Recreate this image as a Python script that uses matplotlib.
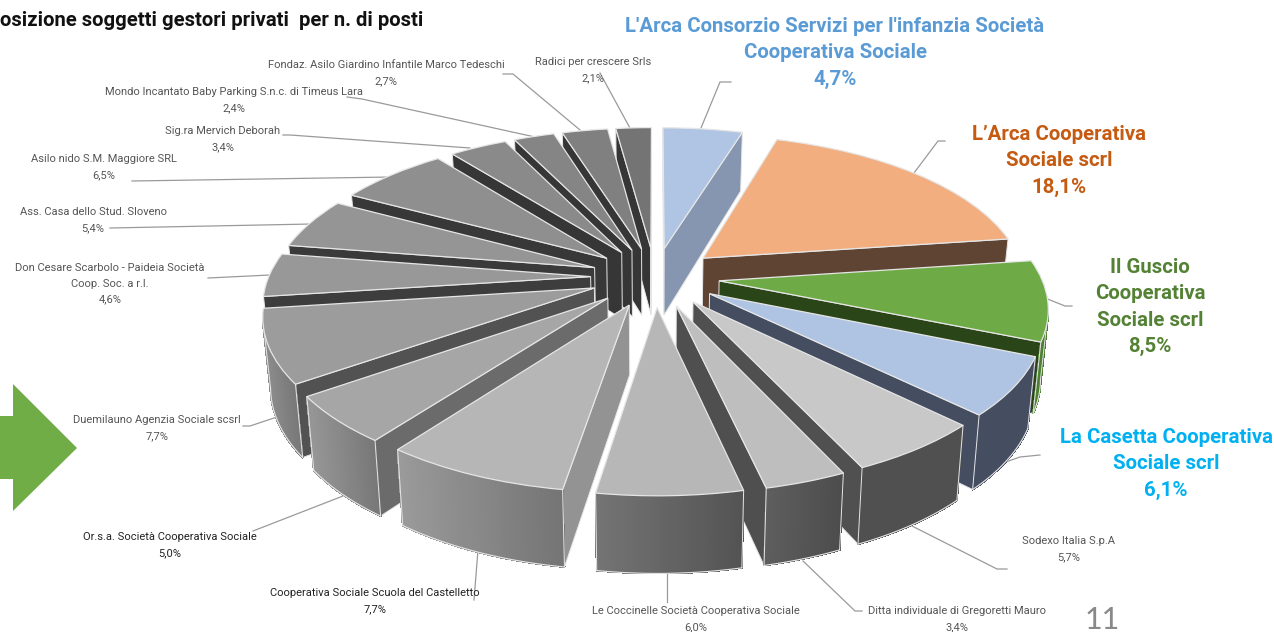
import numpy as np
import matplotlib
matplotlib.use("Agg")
import matplotlib.pyplot as plt
from matplotlib.collections import PolyCollection
from matplotlib.patches import Polygon
from matplotlib.colors import to_rgb
from matplotlib.transforms import Transform

# ---------- data ----------
names = [
    "L'Arca Consorzio Servizi per l'infanzia Società\nCooperativa Sociale",
    "L’Arca Cooperativa\nSociale scrl",
    "Il Guscio\nCooperativa\nSociale scrl",
    "La Casetta Cooperativa\nSociale scrl",
    "Sodexo Italia S.p.A",
    "Ditta individuale di Gregoretti Mauro",
    "Le Coccinelle Società Cooperativa Sociale",
    "Cooperativa Sociale Scuola del Castelletto",
    "Or.s.a. Società Cooperativa Sociale",
    "Duemilauno Agenzia Sociale scsrl",
    "Don Cesare Scarbolo - Paideia Società\nCoop. Soc. a r.l.",
    "Ass. Casa dello Stud. Sloveno",
    "Asilo nido S.M. Maggiore SRL",
    "Sig.ra Mervich Deborah",
    "Mondo Incantato Baby Parking S.n.c. di Timeus Lara",
    "Fondaz. Asilo Giardino Infantile Marco Tedeschi",
    "Radici per crescere Srls",
]
shares = [4.7, 18.1, 8.5, 6.1, 5.7, 3.4, 6.0, 7.7, 5.0, 7.7, 4.6, 5.4, 6.5, 3.4, 2.4, 2.7, 2.1]
title = "osizione soggetti gestori privati  per n. di posti"
page = "11"

# ---------- styles ----------
top_colors = ["#B0C4E3", "#F2AE7F", "#6EAB46", "#AFC4E3", "#C8C8C8", "#BEBEBE", "#B7B7B7", "#B6B6B6",
              "#A6A6A6", "#9C9C9C", "#989898", "#959595", "#8F8F8F", "#8A8A8A", "#858585", "#808080", "#747474"]
cut_colors = ["#8696B0", "#5F4433", "#2A4518", "#454D60", "#505050", "#4F4F4F", "#606060", "#939393",
              "#6B6B6B", "#525252", "#3D3D3D", "#3A3A3A", "#383838", "#363636", "#363636", "#363636", "#363636"]
wall_left = ["#8696B0", "#5F4433", "#55883A", "#454D60", "#505050", "#5E5E5E", "#747474", "#9A9A9A",
             "#969696", "#8C8C8C", "#808080", "#707070", "#606060", "#505050", "#505050", "#505050", "#505050"]
wall_right = ["#8696B0", "#5F4433", "#4A7A30", "#454D60", "#505050", "#4C4C4C", "#535353", "#747474",
              "#777777", "#777777", "#707070", "#606060", "#505050", "#505050", "#505050", "#505050", "#505050"]
EDGE = "#E6E6E6"
FONT = "Roboto"

CX, CY, RX, RY, K, EXPLODE = 655.0, 277.0, 322.0, 148.0, 0.157, 0.2


class PieProjection(Transform):
    """Perspective view of the flat pie, from pie units to figure pixels."""
    input_dims = 2
    output_dims = 2
    is_separable = False
    has_inverse = False

    def transform_non_affine(self, values):
        v = np.asarray(values, dtype=float)
        s = 1.0 / (1.0 + K * v[:, 1])
        return np.column_stack([CX + RX * v[:, 0] * s, CY - RY * v[:, 1] * s])


proj = PieProjection()


def drop(points, model_y):
    """Bottom edge of the pie wall under projected top points."""
    h = 68.0 - 8.0 * model_y
    return np.column_stack([CX + (points[:, 0] - CX) * 0.98, points[:, 1] + h])


fig = plt.figure(figsize=(12.74, 6.32), dpi=100)
ax = fig.add_axes([0, 0, 1, 1])
wedges, _ = ax.pie(shares, explode=[EXPLODE] * len(shares), startangle=90, counterclock=False,
                   colors=top_colors, radius=1.0,
                   wedgeprops=dict(edgecolor=EDGE, linewidth=0.9))
ax.set_aspect("auto")
ax.set_xlim(0, 1274)
ax.set_ylim(632, 0)
ax.axis("off")

fracs = np.array(shares) / np.sum(shares)
ends = np.cumsum(fracs) * 2 * np.pi
starts = ends - fracs * 2 * np.pi
mids = (starts + ends) / 2
order = np.argsort(-np.cos(mids))

for rank, i in enumerate(order):
    z = 10 + rank * 3
    off = EXPLODE * np.array([np.sin(mids[i]), np.cos(mids[i])])
    t = np.linspace(starts[i], ends[i], 40)
    rim_m = np.column_stack([np.sin(t), np.cos(t)]) + off
    rim = proj.transform_non_affine(rim_m)
    rim_b = drop(rim, rim_m[:, 1])
    tip = proj.transform_non_affine(off[None, :])
    tip_b = drop(tip, off[None, 1])

    # cut faces
    for a, b, ab, bb in ((tip[0], rim[0], tip_b[0], rim_b[0]), (rim[-1], tip[0], rim_b[-1], tip_b[0])):
        d = b - a
        if d[0] * (ab - a)[1] - d[1] * (ab - a)[0] < 0:
            ax.add_patch(Polygon([a, b, bb, ab], closed=True, facecolor=cut_colors[i], edgecolor=EDGE,
                                 linewidth=0.7, zorder=z))

    # outer wall, shaded across its width
    quads, cols = [], []
    xmin, xmax = rim[:, 0].min(), rim[:, 0].max()
    cl, cr = np.array(to_rgb(wall_left[i])), np.array(to_rgb(wall_right[i]))
    for j in range(len(t) - 1):
        if rim[j + 1, 0] - rim[j, 0] < 0:
            quads.append([rim[j], rim[j + 1], rim_b[j + 1], rim_b[j]])
            u = (0.5 * (rim[j, 0] + rim[j + 1, 0]) - xmin) / max(xmax - xmin, 1)
            cols.append(cl + (cr - cl) * u)
    if quads:
        ax.add_collection(PolyCollection(quads, facecolors=cols, edgecolors=cols, linewidths=0.8,
                                         antialiaseds=False, zorder=z + 1))
        vis = [q[0] for q in quads] + [quads[-1][1]]
        visb = [q[3] for q in quads] + [quads[-1][2]]
        ax.plot([p[0] for p in visb], [p[1] for p in visb], color=EDGE, lw=0.8, zorder=z + 1)
        ax.plot([vis[0][0], visb[0][0]], [vis[0][1], visb[0][1]], color=EDGE, lw=0.7, zorder=z + 1)
        ax.plot([vis[-1][0], visb[-1][0]], [vis[-1][1], visb[-1][1]], color=EDGE, lw=0.7, zorder=z + 1)

    wedges[i].set_transform(proj + ax.transData)
    wedges[i].set_zorder(z + 2)
    wedges[i].set_clip_on(False)

# ---------- leader lines ----------
leaders = [
    [(731, 82), (720, 82), (701, 128)],
    [(945, 141), (938, 141), (905, 185)],
    [(1072, 306), (1065, 306), (1040, 296)],
    [(1040, 455), (1020, 457), (1000, 464)],
    [(1007, 569), (997, 569), (912, 526)],
    [(862, 611), (855, 611), (803, 561)],
    [(667, 602), (667, 570)],
    [(474, 600), (478, 550)],
    [(253, 531), (343, 496)],
    [(243, 426), (250, 426), (280, 416)],
    [(208, 278), (270, 275)],
    [(110, 228), (312, 224)],
    [(132, 181), (392, 177)],
    [(283, 135), (290, 135), (470, 148)],
    [(347, 97), (362, 99), (535, 137)],
    [(503, 74), (513, 74), (580, 130)],
    [(600, 73), (631, 130)],
]
for path in leaders:
    p = np.array(path)
    ax.plot(p[:, 0], p[:, 1], color="#9A9A9A", lw=0.9, zorder=5)

# ---------- labels ----------
label_pos = [(835, 53), (1059, 161), (1150, 307), (1166, 464), (1069, 549), (957, 619), (696, 619), (375, 601),
             (170, 545), (157, 428), (110, 284), (93, 220), (104, 167), (223, 139), (234, 100), (386, 73), (593, 70)]
bold_style = {0: "#5B9BD5", 1: "#C55A11", 2: "#548235", 3: "#00B0F0"}
black_labels = {7, 8}
for i, (name, val) in enumerate(zip(names, shares)):
    txt = name + "\n" + f"{val:.1f}".replace(".", ",") + "%"
    x, y = label_pos[i]
    if i in bold_style:
        ax.text(x, y, txt, color=bold_style[i], ha="center", va="center", fontfamily=FONT,
                fontweight="bold", fontsize=14.7, linespacing=1.48, zorder=200)
    else:
        ax.text(x, y, txt, color="#222222" if i in black_labels else "#555555", ha="center", va="center",
                fontfamily=FONT, fontsize=8.0, linespacing=1.7, zorder=200)

ax.text(0, 20, title, color="#111111", ha="left", va="center", fontfamily=FONT, fontweight="bold",
        fontsize=14.6, zorder=200)
ax.text(1102, 620, page, color="#898989", ha="center", va="center", fontfamily="Lato", fontsize=22, zorder=200)

# ---------- arrow ----------
ax.add_patch(Polygon([(0, 416), (13, 416), (13, 384), (77, 448), (13, 511), (13, 479), (0, 479)],
                     closed=True, facecolor="#70AD47", edgecolor="none", zorder=3))

fig.savefig("out.png", dpi=100)
